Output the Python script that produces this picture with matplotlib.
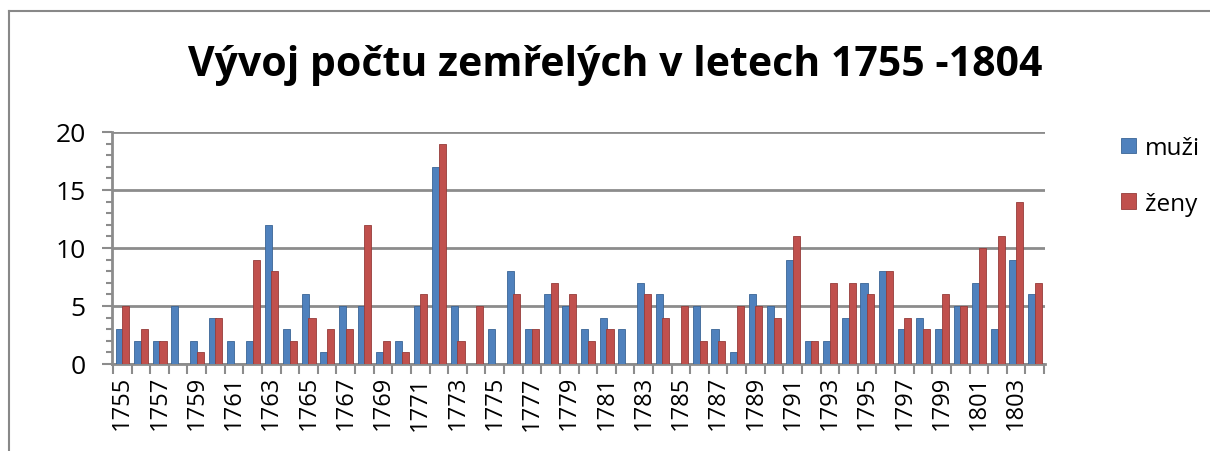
import numpy as np
import matplotlib
matplotlib.use("Agg")
import matplotlib.pyplot as plt
from matplotlib.lines import Line2D

plt.rcParams['font.family'] = ['Open Sans', 'DejaVu Sans']

# Data
years = list(range(1755, 1805))
muzi = [3, 2, 2, 5, 2, 4, 2, 2, 12, 3,
        6, 1, 5, 5, 1, 2, 5, 17, 5, 0,
        3, 8, 3, 6, 5, 3, 4, 3, 7, 6,
        0, 5, 3, 1, 6, 5, 9, 2, 2, 4,
        7, 8, 3, 4, 3, 5, 7, 3, 9, 6]
zeny = [5, 3, 2, 0, 1, 4, 0, 9, 8, 2,
        4, 3, 3, 12, 2, 1, 6, 19, 2, 5,
        0, 6, 3, 7, 6, 2, 3, 0, 6, 4,
        5, 2, 2, 5, 5, 4, 11, 2, 7, 7,
        6, 8, 4, 3, 6, 5, 10, 11, 14, 7]

blue = '#4F81BD'
red = '#C0504D'
grid_c = '#8C8C8C'

fig = plt.figure(figsize=(12.1, 4.52), dpi=100)
ax = fig.add_axes([112 / 1210, 1 - 365 / 452, (1045 - 112) / 1210, (365 - 133) / 452])

x = np.arange(len(years))
w = 0.38
ax.bar(x - 0.17, muzi, w, color=blue, edgecolor='#3A6596', linewidth=0.6, label='muži', zorder=3)
ax.bar(x + 0.19, zeny, w, color=red, edgecolor='#963C3A', linewidth=0.6, label='ženy', zorder=3)

ax.set_xlim(-0.55, len(years) - 0.45)
ax.set_ylim(0, 20)
ax.set_yticks([0, 5, 10, 15, 20])
ax.set_yticks(np.arange(0, 21, 1), minor=True)
ax.yaxis.grid(True, color=grid_c, linewidth=2)
ax.set_axisbelow(True)

ax.set_xticks(x[::2])
ax.set_xticklabels([str(y) for y in years[::2]], rotation=90)
ax.set_xticks(np.arange(-0.5, len(years), 1), minor=True)
ax.tick_params(axis='x', which='major', length=0, pad=8, labelsize=17)
ax.tick_params(axis='x', which='minor', length=7, color=grid_c, width=1.5)
ax.tick_params(axis='y', which='major', length=7, color=grid_c, width=1.5, labelsize=19, pad=12)
ax.tick_params(axis='y', which='minor', length=4, color=grid_c, width=1.5)

for s in ['top', 'right']:
    ax.spines[s].set_visible(False)
for s in ['left', 'bottom']:
    ax.spines[s].set_color(grid_c)
    ax.spines[s].set_linewidth(2)

fig.text(615 / 1210, 1 - 66 / 452, 'Vývoj počtu zemřelých v letech 1755 -1804',
         ha='center', va='center', fontsize=29.5, fontweight='bold')

fig.legend(loc='upper left', bbox_to_anchor=(1121 / 1210, 1 - 137 / 452), frameon=False,
           borderpad=0, borderaxespad=0,
           fontsize=17.5, handlelength=0.6, handleheight=0.6, handletextpad=0.4,
           labelspacing=1.3)

# chart frame (top and left edge)
fig.add_artist(Line2D([9 / 1210, 9 / 1210], [0, 1 - 12 / 452], color='#888888', linewidth=1.5))
fig.add_artist(Line2D([9 / 1210, 1], [1 - 12 / 452, 1 - 12 / 452], color='#888888', linewidth=1.5))

fig.savefig('out.png', dpi=100)
